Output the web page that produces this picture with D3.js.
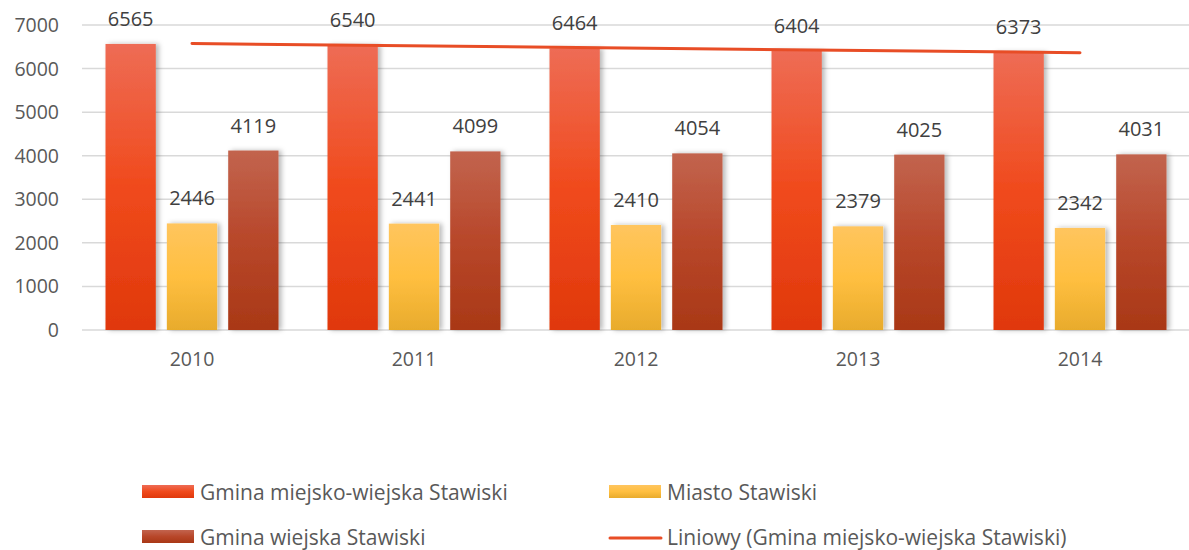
<!DOCTYPE html>
<meta charset="utf-8">
<style>
body { margin: 0; background: #fff; }
text { font-family: "Open Sans", sans-serif; }
</style>
<body>
<script src="https://d3js.org/d3.v7.min.js"></script>
<script>

var years = ["2010", "2011", "2012", "2013", "2014"];
var seriesNames = ["Gmina miejsko-wiejska Stawiski", "Miasto Stawiski", "Gmina wiejska Stawiski"];
var gminaMW = [6565, 6540, 6464, 6404, 6373];
var miasto = [2446, 2441, 2410, 2379, 2342];
var gminaW = [4119, 4099, 4054, 4025, 4031];
var yTicks = [0, 1000, 2000, 3000, 4000, 5000, 6000, 7000];
var trendName = "Liniowy (Gmina miejsko-wiejska Stawiski)";

var seriesValues = [gminaMW, miasto, gminaW];
var gradients = [
  ["#ee6c55", "#f04a1c", "#e0380c"],
  ["#ffc55e", "#ffbf40", "#e8ab2c"],
  ["#c2644e", "#b8472a", "#a93816"]
];

var width = 1189, height = 550;

var svg = d3.select("body").append("svg")
    .attr("width", width)
    .attr("height", height);

var defs = svg.append("defs");
gradients.forEach(function(g, i) {
  var lg = defs.append("linearGradient")
      .attr("id", "grad" + i)
      .attr("x1", 0).attr("y1", 0).attr("x2", 0).attr("y2", 1);
  lg.append("stop").attr("offset", "0%").attr("stop-color", g[0]);
  lg.append("stop").attr("offset", "50%").attr("stop-color", g[1]);
  lg.append("stop").attr("offset", "100%").attr("stop-color", g[2]);
});

var shadow = defs.append("filter")
    .attr("id", "shadow")
    .attr("x", "-30%").attr("y", "-10%")
    .attr("width", "160%").attr("height", "120%");
shadow.append("feDropShadow")
    .attr("dx", 3).attr("dy", 0)
    .attr("stdDeviation", 2.5)
    .attr("flood-color", "#000")
    .attr("flood-opacity", 0.28);

var x0 = d3.scaleBand().domain(years).range([81, 1191]);
var x1 = d3.scaleBand().domain(d3.range(3)).range([24.5, 197.5]).paddingInner(0.18);
var y = d3.scaleLinear().domain([0, 7000]).range([330, 25]);

// gridlines
svg.append("g")
  .selectAll("line")
  .data(yTicks)
  .enter().append("line")
    .attr("x1", 82).attr("x2", width)
    .attr("y1", function(d) { return y(d); })
    .attr("y2", function(d) { return y(d); })
    .attr("stroke", "#d9d9d9")
    .attr("stroke-width", 1.5);

// y axis labels
svg.append("g")
  .selectAll("text")
  .data(yTicks)
  .enter().append("text")
    .attr("x", 59)
    .attr("y", function(d) { return y(d); })
    .attr("dy", "0.36em")
    .attr("text-anchor", "end")
    .attr("font-size", 19.5)
    .attr("fill", "#595959")
    .text(function(d) { return d; });

// x axis labels
svg.append("g")
  .selectAll("text")
  .data(years)
  .enter().append("text")
    .attr("x", function(d) { return x0(d) + x0.bandwidth() / 2; })
    .attr("y", 359)
    .attr("dy", "0.36em")
    .attr("text-anchor", "middle")
    .attr("font-size", 19.5)
    .attr("fill", "#595959")
    .text(function(d) { return d; });

// bars
var groups = svg.append("g")
  .selectAll("g")
  .data(years)
  .enter().append("g")
    .attr("transform", function(d) { return "translate(" + x0(d) + ",0)"; });

groups.selectAll("rect")
  .data(function(d, i) { return seriesValues.map(function(s, k) { return {k: k, v: s[i]}; }); })
  .enter().append("rect")
    .attr("x", function(d) { return x1(d.k); })
    .attr("y", function(d) { return y(d.v); })
    .attr("width", x1.bandwidth())
    .attr("height", function(d) { return y(0) - y(d.v); })
    .attr("fill", function(d) { return "url(#grad" + d.k + ")"; })
    .attr("filter", "url(#shadow)");

groups.selectAll("text")
  .data(function(d, i) { return seriesValues.map(function(s, k) { return {k: k, v: s[i]}; }); })
  .enter().append("text")
    .attr("x", function(d) { return x1(d.k) + x1.bandwidth() / 2; })
    .attr("y", function(d) { return y(d.v) - 18; })
    .attr("text-anchor", "middle")
    .attr("font-size", 20)
    .attr("fill", "#404040")
    .text(function(d) { return d.v; });

// linear trendline
var n = gminaMW.length;
var mx = d3.mean(d3.range(n)), my = d3.mean(gminaMW);
var slope = d3.sum(gminaMW, function(v, i) { return (i - mx) * (v - my); }) /
            d3.sum(d3.range(n), function(i) { return (i - mx) * (i - mx); });
var icpt = my - slope * mx;
var cx = function(i) { return x0(years[i]) + x0.bandwidth() / 2; };

svg.append("line")
    .attr("x1", cx(0)).attr("y1", y(icpt))
    .attr("x2", cx(n - 1)).attr("y2", y(icpt + slope * (n - 1)))
    .attr("stroke", "#e84d26")
    .attr("stroke-width", 3)
    .attr("stroke-linecap", "round");

// legend
var legendItems = [
  {name: seriesNames[0], k: 0, x: 142, y: 492},
  {name: seriesNames[1], k: 1, x: 609, y: 492},
  {name: seriesNames[2], k: 2, x: 142, y: 537},
  {name: trendName, k: -1, x: 609, y: 537}
];

var legend = svg.append("g")
  .selectAll("g")
  .data(legendItems)
  .enter().append("g")
    .attr("transform", function(d) { return "translate(" + d.x + "," + d.y + ")"; });

legend.filter(function(d) { return d.k >= 0; })
  .append("rect")
    .attr("x", 0).attr("y", -7)
    .attr("width", 52).attr("height", 13)
    .attr("fill", function(d) { return "url(#grad" + d.k + ")"; });

legend.filter(function(d) { return d.k < 0; })
  .append("line")
    .attr("x1", 1).attr("x2", 52)
    .attr("y1", 1).attr("y2", 1)
    .attr("stroke", "#e84d26")
    .attr("stroke-width", 3)
    .attr("stroke-linecap", "round");

legend.append("text")
    .attr("x", 58)
    .attr("y", 0)
    .attr("dy", "0.36em")
    .attr("font-size", 21)
    .attr("fill", "#595959")
    .text(function(d) { return d.name; });

</script>
</body>
